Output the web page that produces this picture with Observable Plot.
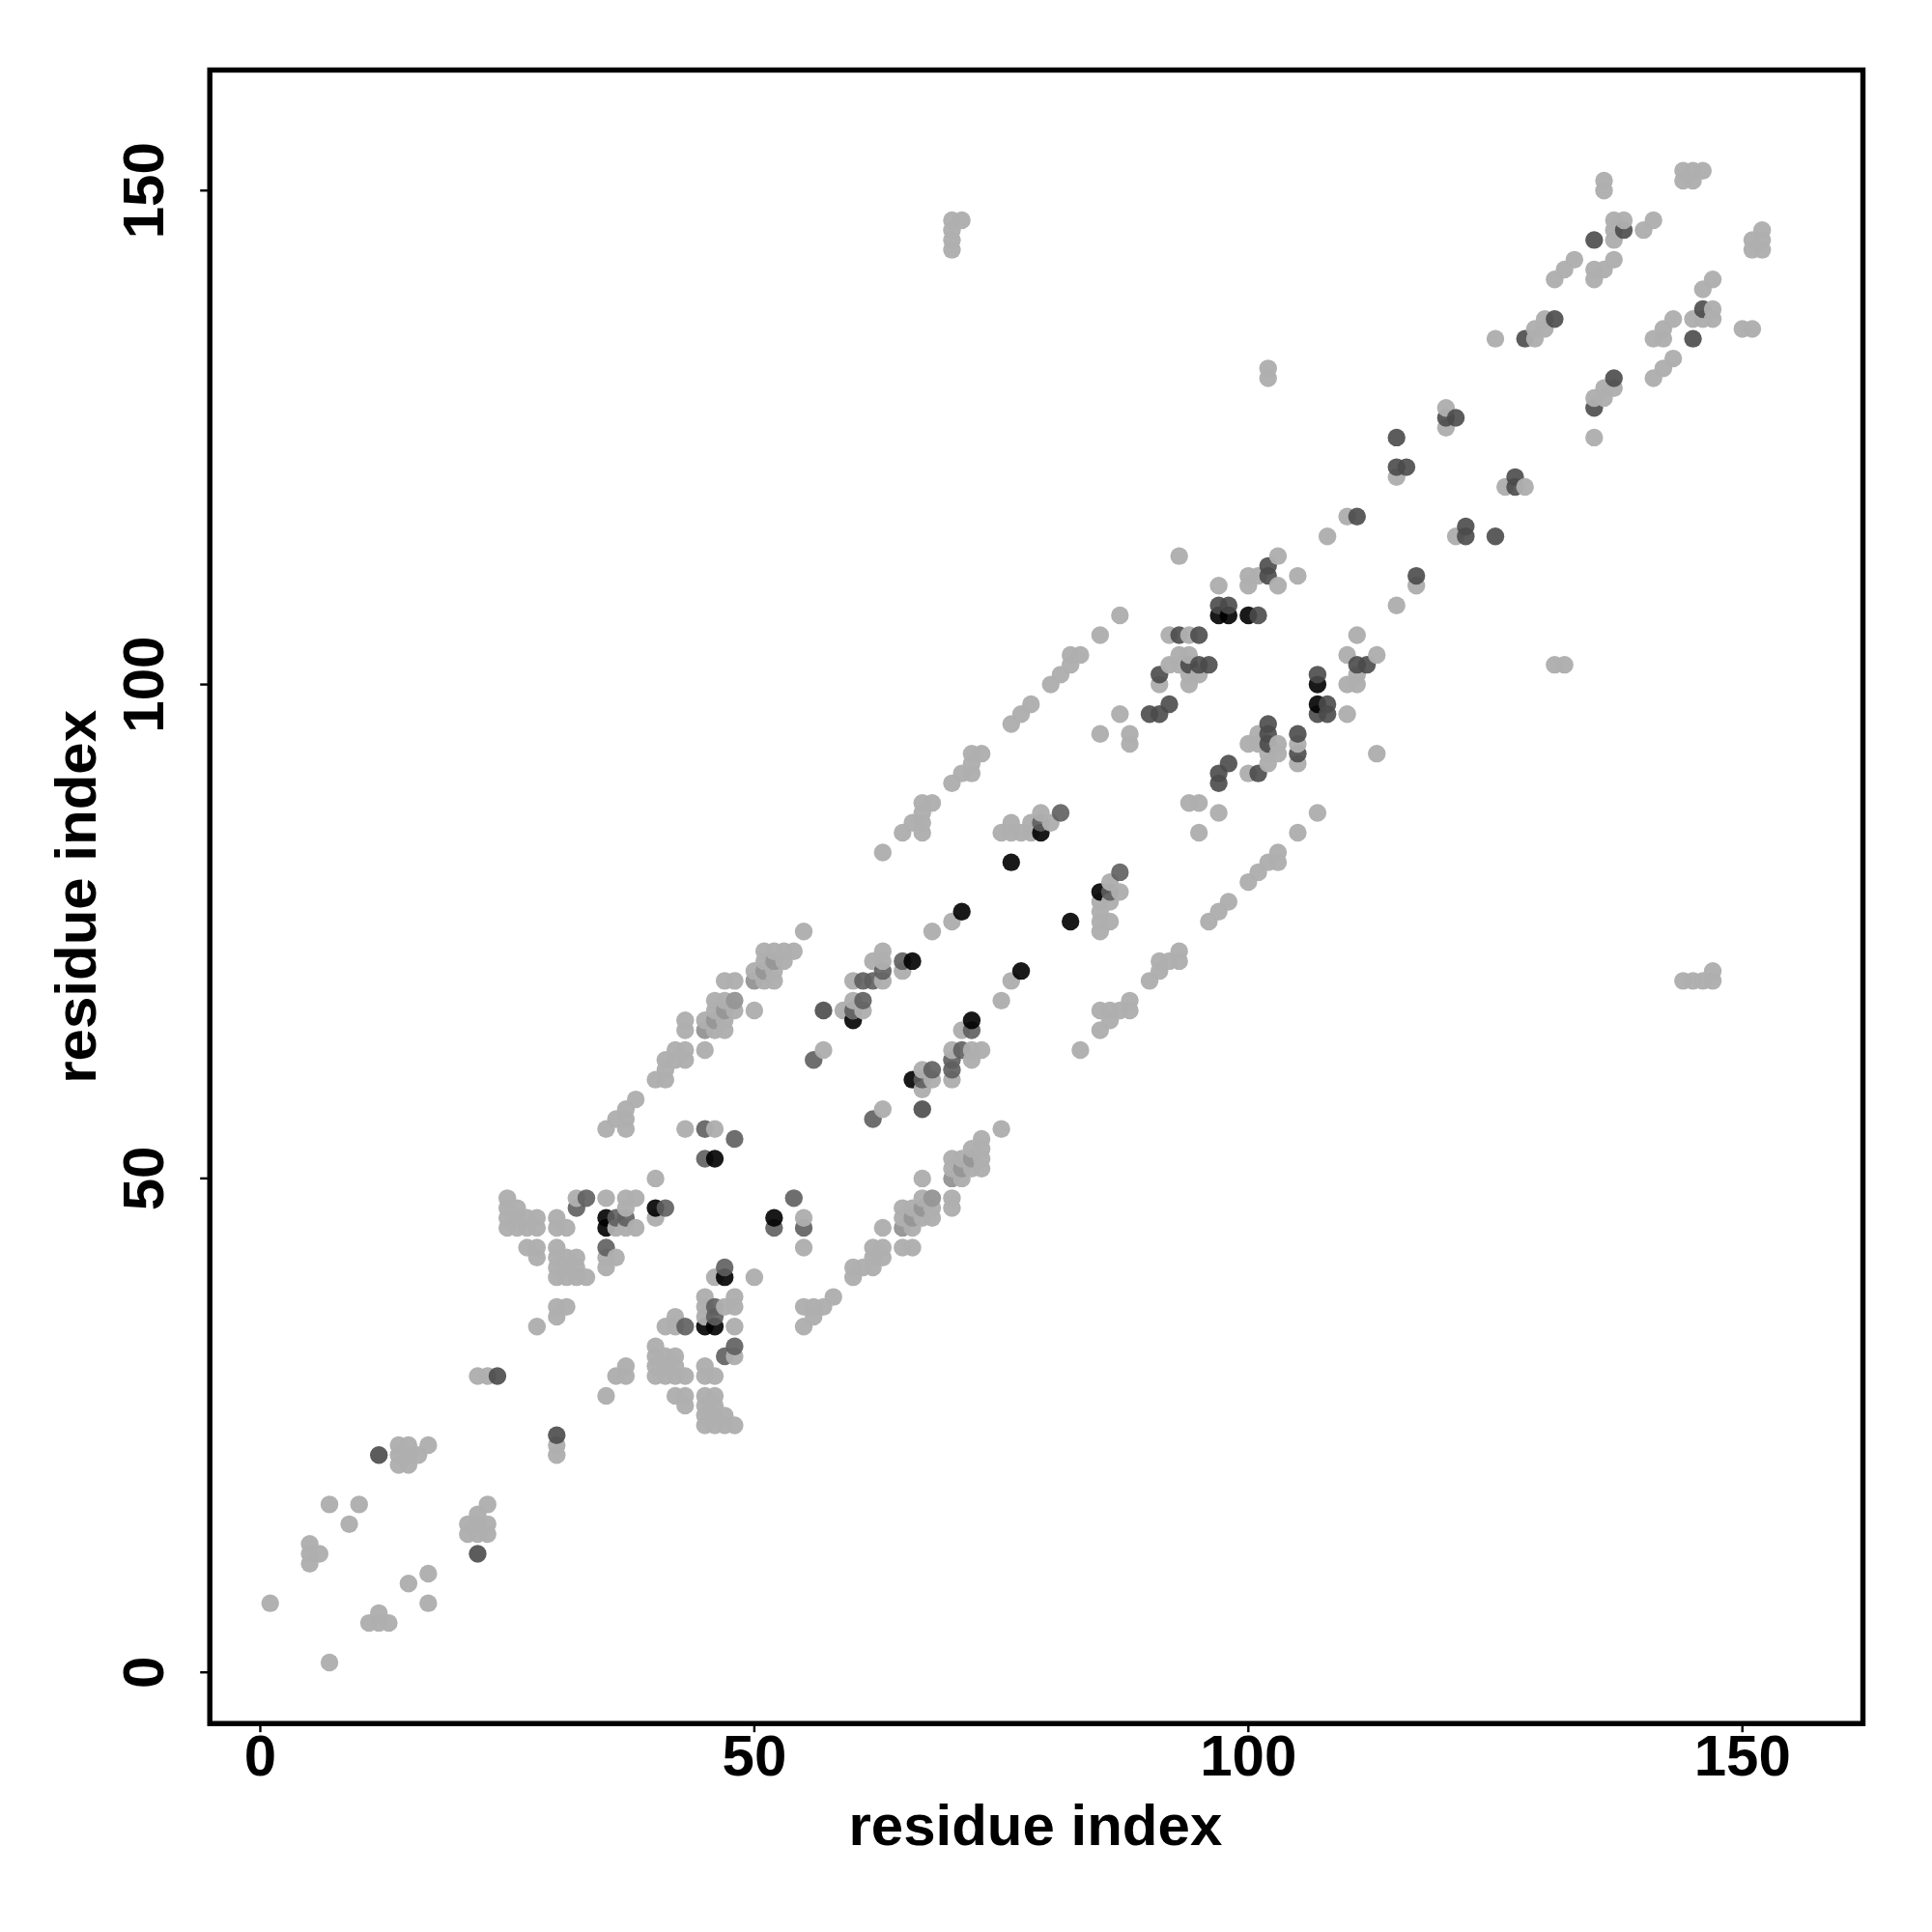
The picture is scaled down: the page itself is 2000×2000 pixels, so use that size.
<!DOCTYPE html>
<html>
<head>
<meta charset="utf-8">
<style>html,body{margin:0;padding:0;background:#fff}svg{display:block}</style>
<script src="https://cdn.jsdelivr.net/npm/d3@7"></script>
<script src="https://cdn.jsdelivr.net/npm/@observablehq/plot@0.6"></script>
</head>
<body>
<div id="chart"></div>
<script>
const tickValues = [0, 50, 100, 150];
const axisTitle = "residue index";
const lightContacts = [
[1,7],[7,1],[5,13],[5,12],[5,11],[6,12],[7,17],[10,17],[9,15],[17,10],[15,9],[17,7],[12,6],[11,5],[12,5],[13,5],
[14,23],[15,23],[14,22],[15,22],[14,21],[15,21],[16,22],[17,23],
[23,17],[22,16],[21,15],[22,15],[23,15],[21,14],[22,14],[23,14],
[22,30],[23,30],[30,23],[30,22],[28,35],[30,36],[30,37],[31,37],[35,28],[36,30],[37,31],[37,30],
[25,48],[25,47],[26,47],[25,46],[26,46],[27,46],[28,46],[25,45],[26,45],[27,45],[28,45],[30,46],[30,45],[31,45],
[27,43],[28,43],[28,42],[30,43],[30,42],[31,42],[32,42],[30,41],[31,41],[32,41],[30,40],[31,40],[32,40],[33,40],
[32,48],[35,48],[37,48],[38,48],[37,47],[36,45],[37,45],[38,45],[35,42],[35,41],[36,42],
[40,50],[40,46],[43,55],[46,55],[35,55],[37,55],[36,56],[37,56],[37,57],[38,58],[40,60],[41,60],[41,61],
[55,46],[55,43],[46,40],[50,40],[45,38],[48,38],[45,37],[45,36],[47,37],[48,37],[48,35],[42,36],[41,35],[42,35],[48,32],
[40,33],[40,32],[41,32],[42,32],[40,31],[41,31],[42,31],[40,30],[41,30],[42,30],[43,30],
[45,31],[45,30],[46,30],[42,28],[43,28],[43,27],
[45,28],[46,28],[45,27],[46,27],[45,26],[46,26],[47,26],[45,25],[46,25],[47,25],[48,25],
[55,75],[51,73],[52,73],[53,73],[54,73],[51,72],[53,72],[50,71],[52,71],[51,70],[52,70],[47,70],[48,70],
[46,68],[47,68],[46,67],[48,67],[45,66],[47,66],[46,65],[47,65],[50,67],[43,66],[43,65],[45,63],[42,63],[43,63],[41,62],[42,62],[43,62],
[63,73],[62,72],[63,72],[65,71],[60,70],[63,70],[60,68],[59,67],[60,67],[61,67],
[57,63],[68,75],[70,76],[76,70],[75,68],[71,65],[70,63],[72,63],[73,63],[72,62],[70,60],[67,61],[68,60],[67,59],[63,57],
[75,55],[73,54],[72,53],[73,53],[70,52],[71,52],[72,51],[73,52],[70,51],[73,51],[71,50],[67,50],[67,48],[70,48],[70,47],
[65,47],[66,47],[68,47],[65,46],[67,46],[68,46],[66,45],[63,45],[65,43],[66,43],[62,43],[63,43],[62,42],[63,42],[60,41],[61,41],[62,41],[60,40],[58,38],[55,37],[56,37],[57,37],[56,36],[55,35],
[63,83],[65,85],[66,86],[67,85],[67,86],[67,87],[67,88],[68,88],[70,90],[71,91],[72,91],[72,92],[72,93],[73,93],[76,96],[77,97],[78,98],
[75,85],[76,86],[76,85],[77,85],[78,86],[78,85],[79,87],[80,86],
[87,79],[86,78],[85,78],[85,77],[85,76],[86,76],[85,75],[86,80],
[85,95],[88,95],[88,94],[87,97],[94,88],[95,88],[97,87],[95,85],
[100,80],[101,81],[98,78],[97,77],[96,76],[93,73],[93,72],[91,72],[92,72],[91,71],[90,70],[88,68],[88,67],[85,67],[86,67],[87,67],[86,66],[85,65],[83,63],
[93,113],[103,113],[100,111],[101,111],[105,111],[100,110],[103,110],[97,110],[108,115],[117,110],[115,108],[121,115],
[87,107],[85,105],[92,105],[94,105],[82,103],[83,103],[82,102],[81,101],[80,100],
[93,103],[94,103],[92,102],[93,102],[94,101],[95,101],[91,100],[94,100],
[110,97],[113,93],[111,105],[110,103],[113,103],[111,101],[110,100],[111,100],
[101,95],[100,94],[101,94],[103,94],[102,93],[103,93],[102,92],[100,91],[105,94],[105,92],[107,87],[105,85],[103,83],[103,82],[102,82],
[136,151],[136,150],[144,152],[145,152],[146,152],[144,151],[145,151],[137,147],[138,147],[137,146],[137,145],[141,147],[140,146],[137,143],[136,142],[135,142],[135,141],[133,143],[132,142],[131,141],
[152,146],[151,145],[152,145],[151,144],[152,144],[147,141],[146,140],[147,138],[145,137],[146,137],[147,137],[143,137],[142,136],[142,135],[141,135],[150,136],[151,136],[143,133],[142,132],[141,131],[137,130],[136,130],[136,129],[135,129],[135,125],
[130,137],[130,136],[129,136],[129,135],[125,135],[120,128],[120,126],[115,121],[126,120],[128,120],[110,117],
[70,147],[71,147],[70,146],[70,145],[70,144],[102,132],[102,131],[131,102],[132,102],[144,70],[145,70],[146,70],[147,70],[147,71]
];
const paleContacts = [
[48,68],[68,48],[52,72],[51,71],[50,70],[47,67],[46,66],[45,65],[66,46],[67,47],[65,45],[72,52],[71,51],[70,50]
];
const midContacts = [
[33,48],[32,47],[36,46],[37,46],[35,43],[41,47],[45,55],[48,54],[45,52],[54,48],[52,45],[55,45],[47,41],[46,37],[46,36],[43,35],[48,33],[47,32],
[62,56],[56,62],[61,68],[61,70],[62,70],[63,71],[65,72],[60,67],[81,87],[87,81],[86,79],[79,86],[70,62],[70,61],[68,61],[67,60],[71,63],[72,65]
];
const deepContacts = [
[12,22],[22,12],[24,30],[30,24],[57,67],[67,57],[102,112],[102,111],[97,108],[98,108],[101,107],[93,105],[95,105],[94,102],[95,102],[96,102],[91,101],
[90,97],[91,97],[92,98],[107,101],[108,98],[107,97],[108,97],[111,102],[112,102],[102,96],[102,95],[102,94],[105,95],[105,93],[98,92],[97,91],[97,90],[101,91],
[117,111],[122,116],[122,115],[111,117],[115,125],[115,122],[116,122],[120,127],[121,127],[127,121],[127,120],[125,115],[135,145],[138,146],[146,138],[145,135],[137,131],[135,128],[131,137],[128,135]
];
const blackContacts = [
[35,46],[35,45],[40,47],[46,52],[52,46],[47,40],[45,35],[46,35],[60,66],[66,72],[71,77],[77,71],[72,66],[66,60],[76,82],[79,85],[82,76],[85,79],[97,107],[98,107],[100,107],[107,100],[107,98]
];
const tiers = [
  [lightContacts, "rgba(174,174,174,0.97)"],
  [paleContacts, "rgba(150,150,150,0.97)"],
  [midContacts, "rgba(94,94,94,0.9)"],
  [deepContacts, "rgba(74,74,74,0.9)"],
  [blackContacts, "rgba(0,0,0,0.9)"]
];
const contacts = d3.sort(
  tiers.flatMap(([pairs, shade]) => pairs.map(([x, y]) => ({x, y, shade}))),
  d => d.x, d => d.y
);
const font = {fontSize: 60, fontWeight: "bold"};
const chart = Plot.plot({
  width: 2000,
  height: 2000,
  marginLeft: 216.7,
  marginRight: 72,
  marginTop: 72,
  marginBottom: 216.3,
  style: {fontFamily: "'Liberation Sans', Arial, sans-serif", fontWeight: "bold", background: "#fff", overflow: "visible"},
  x: {domain: [-5.11, 162.2]},
  y: {domain: [-5.18, 162.2]},
  marks: [
    Plot.dot(contacts, {x: "x", y: "y", r: 9.2, fill: "shade", stroke: "none"}),
    Plot.axisX({ticks: tickValues, tickSize: 9.5, tickPadding: 2, strokeWidth: 2.4, label: null, ...font}),
    Plot.axisY({ticks: tickValues, tickSize: 9.5, tickPadding: 38.5, tickRotate: -90, strokeWidth: 2.4, label: null, ...font}),
    Plot.frame({stroke: "#000", strokeWidth: 5.4}),
    Plot.text([axisTitle], {frameAnchor: "bottom", dx: -1, dy: 126, textAnchor: "middle", lineAnchor: "bottom", ...font}),
    Plot.text([axisTitle], {frameAnchor: "left", dx: -118, rotate: -90, textAnchor: "middle", lineAnchor: "bottom", ...font})
  ]
});
document.getElementById("chart").appendChild(chart);
</script>
</body>
</html>
